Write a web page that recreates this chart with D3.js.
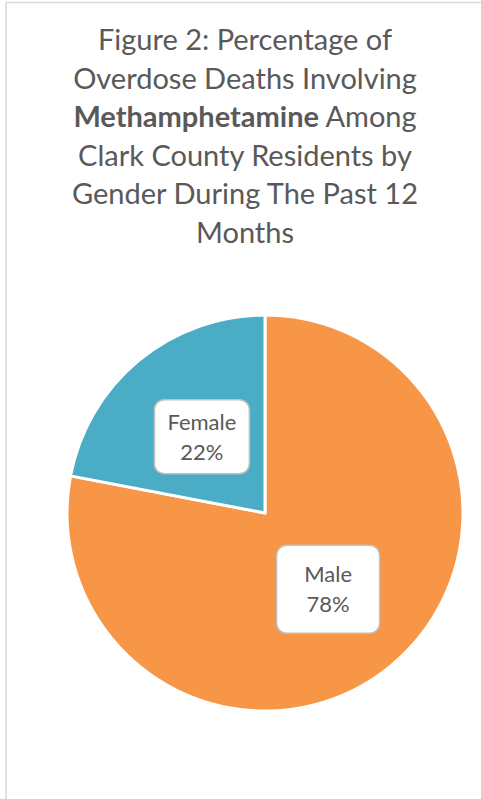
<!DOCTYPE html>
<html>
<head>
<meta charset="utf-8">
<script src="https://cdn.jsdelivr.net/npm/d3@7"></script>
<style>
  html, body { margin: 0; padding: 0; background: #fff; }
  svg { display: block; }
</style>
</head>
<body>
<svg id="chart"></svg>
<script>
// data
const categories = ["Male", "Female"];
const percents = [78, 22];
const titleLines = [
  [{ t: "Figure 2: Percentage of" }],
  [{ t: "Overdose Deaths Involving" }],
  [{ t: "Methamphetamine", b: true }, { t: " Among" }],
  [{ t: "Clark County Residents by" }],
  [{ t: "Gender During The Past 12" }],
  [{ t: "Months" }]
];

const width = 481, height = 799;
const fontFam = "Lato, 'Open Sans', sans-serif";
const textColor = "#595959";

const svg = d3.select("#chart")
  .attr("width", width)
  .attr("height", height);

svg.append("rect")
  .attr("width", width).attr("height", height)
  .attr("fill", "#fff");

// chart area border (only top and left visible in the crop)
svg.append("path")
  .attr("d", `M6,${height} L6,2.5 L${width},2.5`)
  .attr("fill", "none")
  .attr("stroke", "#d9d9d9")
  .attr("stroke-width", 1.5);

// title
const title = svg.append("text")
  .attr("text-anchor", "middle")
  .attr("font-family", fontFam)
  .attr("font-size", 29)
  .attr("fill", textColor);

titleLines.forEach((line, i) => {
  const tl = title.append("tspan")
    .attr("x", 245)
    .attr("y", 50 + i * 38.6);
  line.forEach(part => {
    tl.append("tspan")
      .attr("font-weight", part.b ? "bold" : null)
      .text(part.t);
  });
});

// pie
const cx = 265, cy = 513, r = 198;
const color = d3.scaleOrdinal().domain(categories).range(["#F79646", "#4BACC6"]);

const data = categories.map((c, i) => ({ cat: c, value: percents[i] }));
const pie = d3.pie().sort(null).value(d => d.value);
const arc = d3.arc().innerRadius(0).outerRadius(r);
const arcs = pie(data);

const g = svg.append("g").attr("transform", `translate(${cx},${cy})`);

g.selectAll("path.slice")
  .data(arcs)
  .join("path")
  .attr("class", "slice")
  .attr("d", arc)
  .attr("fill", d => color(d.data.cat))
  .attr("stroke", "#fff")
  .attr("stroke-width", 3)
  .attr("stroke-linejoin", "round");

// labels in rounded boxes
const boxSize = { Male: [103, 88], Female: [95, 74] };

const lab = g.selectAll("g.label")
  .data(arcs)
  .join("g")
  .attr("class", "label")
  .attr("transform", d => {
    const [x, y] = arc.centroid(d);
    return `translate(${x},${y})`;
  });

lab.append("rect")
  .attr("x", d => -boxSize[d.data.cat][0] / 2)
  .attr("y", d => -boxSize[d.data.cat][1] / 2)
  .attr("width", d => boxSize[d.data.cat][0])
  .attr("height", d => boxSize[d.data.cat][1])
  .attr("rx", 10)
  .attr("fill", "#fff")
  .attr("stroke", "#bfbfbf")
  .attr("stroke-width", 1.5);

const lt = lab.append("text")
  .attr("text-anchor", "middle")
  .attr("font-family", fontFam)
  .attr("font-size", 22)
  .attr("fill", textColor);

lt.append("tspan").attr("x", 0).attr("y", -7).text(d => d.data.cat);
lt.append("tspan").attr("x", 0).attr("y", 23).text(d => d.data.value + "%");
</script>
</body>
</html>
